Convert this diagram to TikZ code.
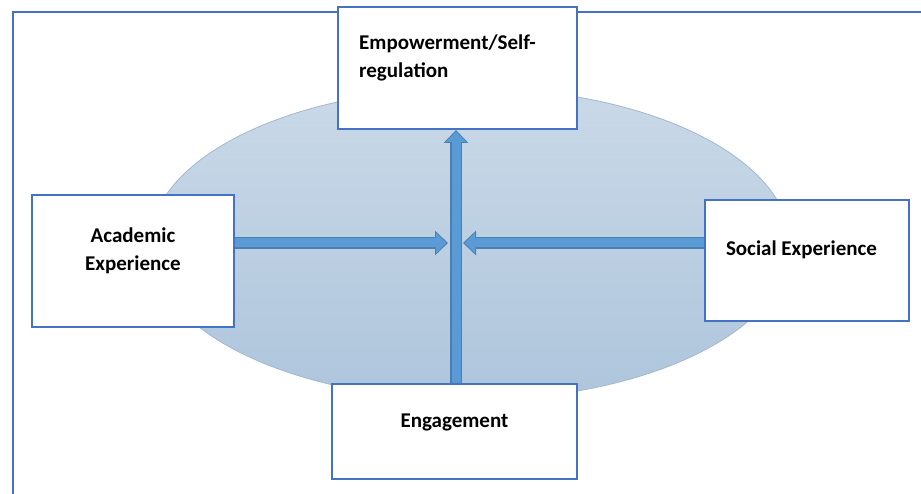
\documentclass[tikz,border=0pt]{standalone}
\usepackage{fontspec}
\setmainfont{Carlito}
\usetikzlibrary{arrows.meta,backgrounds}
\definecolor{boxblue}{HTML}{4472C4}
\definecolor{arrowblue}{HTML}{5B9BD5}
\definecolor{arrowedge}{HTML}{4A7FB3}
\definecolor{ovaltop}{HTML}{CAD9E8}
\definecolor{ovalbottom}{HTML}{AEC5DC}
\definecolor{ovaledge}{HTML}{A2B8CE}

\begin{document}
\begin{tikzpicture}
[x=1pt,y=-1pt,
  boxdecorate/.style={shape=rectangle,draw=boxblue,line width=2pt,fill=white,inner sep=0pt},%
  textdecorate/.style={font=\fontsize{21}{28}\selectfont\bfseries,align=center,inner sep=0pt},%
  edgedecorate/.style={draw=arrowedge,line width=11.5pt,-{Triangle[width=24pt,length=13pt]}},%
  linedecorate/.style={draw=arrowblue,line width=9pt,shorten >=1.5pt,-{Triangle[width=20pt,length=10.5pt]}},%
  framedecorate/.style={draw=boxblue,line width=1.5pt}]
\useasboundingbox (0,0) rectangle (921,494);
%% boxes
\foreach \nodename/\x/\y/\w/\h in {empower/457.5/68/239/122, academic/133/261/202/132,
  social/807/260.5/204/121, engage/454.5/431.5/245/95}
{
  \node (\nodename) at (\x,\y) [boxdecorate,minimum width=\w pt,minimum height=\h pt] {};
}
\coordinate (hub) at (456,243);
%% labels
\node (empowertext) at (359,58) [textdecorate,align=left,anchor=west] {Empowerment/Self-\\regulation};
\node (academictext) at (133,251) [textdecorate] {Academic\\Experience};
\node (socialtext) at (801.5,250) [textdecorate] {Social Experience};
\node (engagetext) at (454.5,422) [textdecorate] {Engagement};
\begin{pgfonlayer}{background}
%% frame and oval
\draw[framedecorate] (13,494) -- (13,12) -- (921,12);
\path[top color=ovaltop,bottom color=ovalbottom,draw=ovaledge,line width=0.8pt]
  (470,244) ellipse [x radius=320,y radius=156];
%% arrows
\foreach \pathstyle in {edgedecorate, linedecorate}
{
  \draw[\pathstyle] (hub |- engage.north) -- (hub |- empower.south);
  \draw[\pathstyle] (academic.east |- hub) -- ([xshift=-8pt]hub);
  \draw[\pathstyle] (social.west |- hub) -- ([xshift=7pt]hub);
}
\end{pgfonlayer}
\end{tikzpicture}
\end{document}
